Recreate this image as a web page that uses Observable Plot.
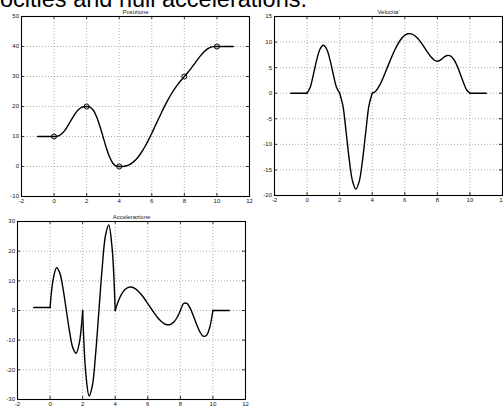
<!DOCTYPE html>
<html>
<head>
<meta charset="utf-8">
<script src="https://cdn.jsdelivr.net/npm/d3@7"></script>
<script src="https://cdn.jsdelivr.net/npm/@observablehq/plot@0.6"></script>
<style>
html, body { margin: 0; padding: 0; background: #fff; overflow: hidden; width: 503px; height: 406px; }
#fig { position: relative; width: 503px; height: 406px; overflow: hidden; font-family: "Liberation Sans", Arial, Helvetica, sans-serif; }
#fig svg { position: absolute; }
#titolo { position: absolute; right: 196px; top: -12.5px; font-size: 23.5px; line-height: 23.5px; white-space: nowrap; color: #000; }
</style>
</head>
<body>
<div id="fig"><div id="titolo">velocities and null accelerations.</div></div>
<script>
// ---- data ----
const tempo = [-1, 0, 0.2, 0.4, 0.6, 0.8, 1, 1.2, 1.4, 1.6, 1.8, 2, 2.2, 2.4, 2.6, 2.8, 3, 3.2, 3.4, 3.6, 3.8, 4,
  4.2, 4.4, 4.6, 4.8, 5, 5.2, 5.4, 5.6, 5.8, 6, 6.2, 6.4, 6.6, 6.8, 7, 7.2, 7.4, 7.6, 7.8, 8,
  8.2, 8.4, 8.6, 8.8, 9, 9.2, 9.4, 9.6, 9.8, 10, 11];
const posizione = [10, 10, 10.09, 10.58, 11.63, 13.17, 15, 16.83, 18.37, 19.42, 19.91, 20,
  19.83, 18.84, 16.74, 13.65, 10, 6.35, 3.26, 1.16, 0.17, 0,
  0.02, 0.17, 0.54, 1.19, 2.15, 3.43, 5.00, 6.84, 8.89, 11.09, 13.40, 15.73, 18.02, 20.22, 22.28, 24.17, 25.86, 27.37, 28.73, 30,
  31.27, 32.63, 34.07, 35.55, 36.95, 38.17, 39.10, 39.69, 39.96, 40, 40];
const velocita = [0, 0, 1.22, 3.84, 6.62, 8.64, 9.38, 8.64, 6.62, 3.84, 1.22, 0,
  -2.43, -7.68, -13.23, -17.28, -18.75, -17.28, -13.23, -7.68, -2.43, 0,
  0.34, 1.24, 2.51, 4.01, 5.59, 7.14, 8.55, 9.76, 10.70, 11.33, 11.63, 11.61, 11.28, 10.69, 9.89, 8.96, 8.00, 7.14, 6.50, 6.25,
  6.53, 7.04, 7.38, 7.29, 6.64, 5.44, 3.83, 2.09, 0.63, 0, 0];
const accelerazione = [1, 1, 10.8, 14.4, 12.6, 7.2, 0, -7.2, -12.6, -14.4, -10.8, 0,
  -21.6, -28.8, -25.2, -14.4, 0, 14.4, 25.2, 28.8, 21.6, 0,
  3.25, 5.57, 7.05, 7.80, 7.91, 7.48, 6.61, 5.40, 3.95, 2.34, 0.70, -0.90, -2.35, -3.54, -4.39, -4.80, -4.66, -3.88, -2.36, 0,
  2.36, 2.40, 0.79, -1.80, -4.69, -7.20, -8.66, -8.40, -5.74, 0, 0];
const limiti = [-1, 0, 2, 4, 10, 11];          // pieces drawn separately
const nodiT = [0, 2, 4, 8, 10];
const nodiP = [10, 20, 0, 30, 40];
const xTicks = [-2, 0, 2, 4, 6, 8, 10, 12];
const posTicks = [-10, 0, 10, 20, 30, 40, 50];
const velTicks = [-20, -15, -10, -5, 0, 5, 10, 15];
const accTicks = [-30, -20, -10, 0, 10, 20, 30];
const titoli = ["Posizione", "Velocita'", "Accelerazione"];

// ---- table ----
const tabella = [];
for (let k = 0; k < limiti.length - 1; k++) {
  tempo.forEach((t, i) => {
    if (t >= limiti[k] - 1e-9 && t <= limiti[k + 1] + 1e-9)
      tabella.push({tratto: k, t, pos: posizione[i], vel: velocita[i], acc: accelerazione[i]});
  });
}
const nodi = nodiT.map((t, i) => ({t, p: nodiP[i]}));

function pannello({titolo, campo, yTicks, width, height, ml, mr, mt, mb, left, top, marcatori}) {
  const fh = height - mt - mb, fw = width - ml - mr;
  const grid = {stroke: "#8a8a8a", strokeOpacity: 1, strokeWidth: 0.7, strokeDasharray: "1,2"};
  const marks = [
    Plot.gridX(xTicks, grid),
    Plot.gridY(yTicks, grid),
    Plot.tickX(xTicks, {x: d => d, insetTop: fh - 3, stroke: "#000", strokeWidth: 0.8}),
    Plot.tickX(xTicks, {x: d => d, insetBottom: fh - 3, stroke: "#000", strokeWidth: 0.8}),
    Plot.tickY(yTicks, {y: d => d, insetRight: fw - 3, stroke: "#000", strokeWidth: 0.8}),
    Plot.tickY(yTicks, {y: d => d, insetLeft: fw - 3, stroke: "#000", strokeWidth: 0.8}),
    Plot.line(tabella, {x: "t", y: campo, z: "tratto", curve: "catmull-rom", stroke: "#000", strokeWidth: 1.4}),
    Plot.frame({stroke: "#000", strokeWidth: 1.1}),
    Plot.axisX(xTicks, {tickSize: 0, tickPadding: 2, fontSize: 6, label: null, tickFormat: d => String(d), fill: "#111"}),
    Plot.axisY(yTicks, {tickSize: 0, tickPadding: 2.5, fontSize: 6, label: null, tickFormat: d => String(d), fill: "#111"}),
    Plot.text([titolo], {frameAnchor: "top", lineAnchor: "bottom", dy: -3, fontSize: 6, fill: "#222"})
  ];
  if (marcatori) marks.push(Plot.dot(nodi, {x: "t", y: "p", r: 2.5, stroke: "#000", fill: "none", strokeWidth: 1}));
  const svg = Plot.plot({
    width, height,
    marginLeft: ml, marginRight: mr, marginTop: mt, marginBottom: mb,
    x: {domain: [-2, 12], label: null},
    y: {domain: [yTicks[0], yTicks[yTicks.length - 1]], label: null},
    style: {background: "transparent", fontFamily: "Liberation Sans, Arial, Helvetica, sans-serif", fontSize: "6px", color: "#000", overflow: "visible"},
    marks
  });
  svg.style.left = left + "px";
  svg.style.top = top + "px";
  document.getElementById("fig").appendChild(svg);
}

pannello({titolo: titoli[0], campo: "pos", yTicks: posTicks, width: 252, height: 210, ml: 21, mr: 3, mt: 16, mb: 14, left: 0, top: 0, marcatori: true});
pannello({titolo: titoli[1], campo: "vel", yTicks: velTicks, width: 253, height: 210, ml: 24, mr: 1, mt: 16, mb: 15, left: 250, top: 0});
pannello({titolo: titoli[2], campo: "acc", yTicks: accTicks, width: 250, height: 201, ml: 17, mr: 5, mt: 16, mb: 7, left: 0, top: 205});
</script>
</body>
</html>
